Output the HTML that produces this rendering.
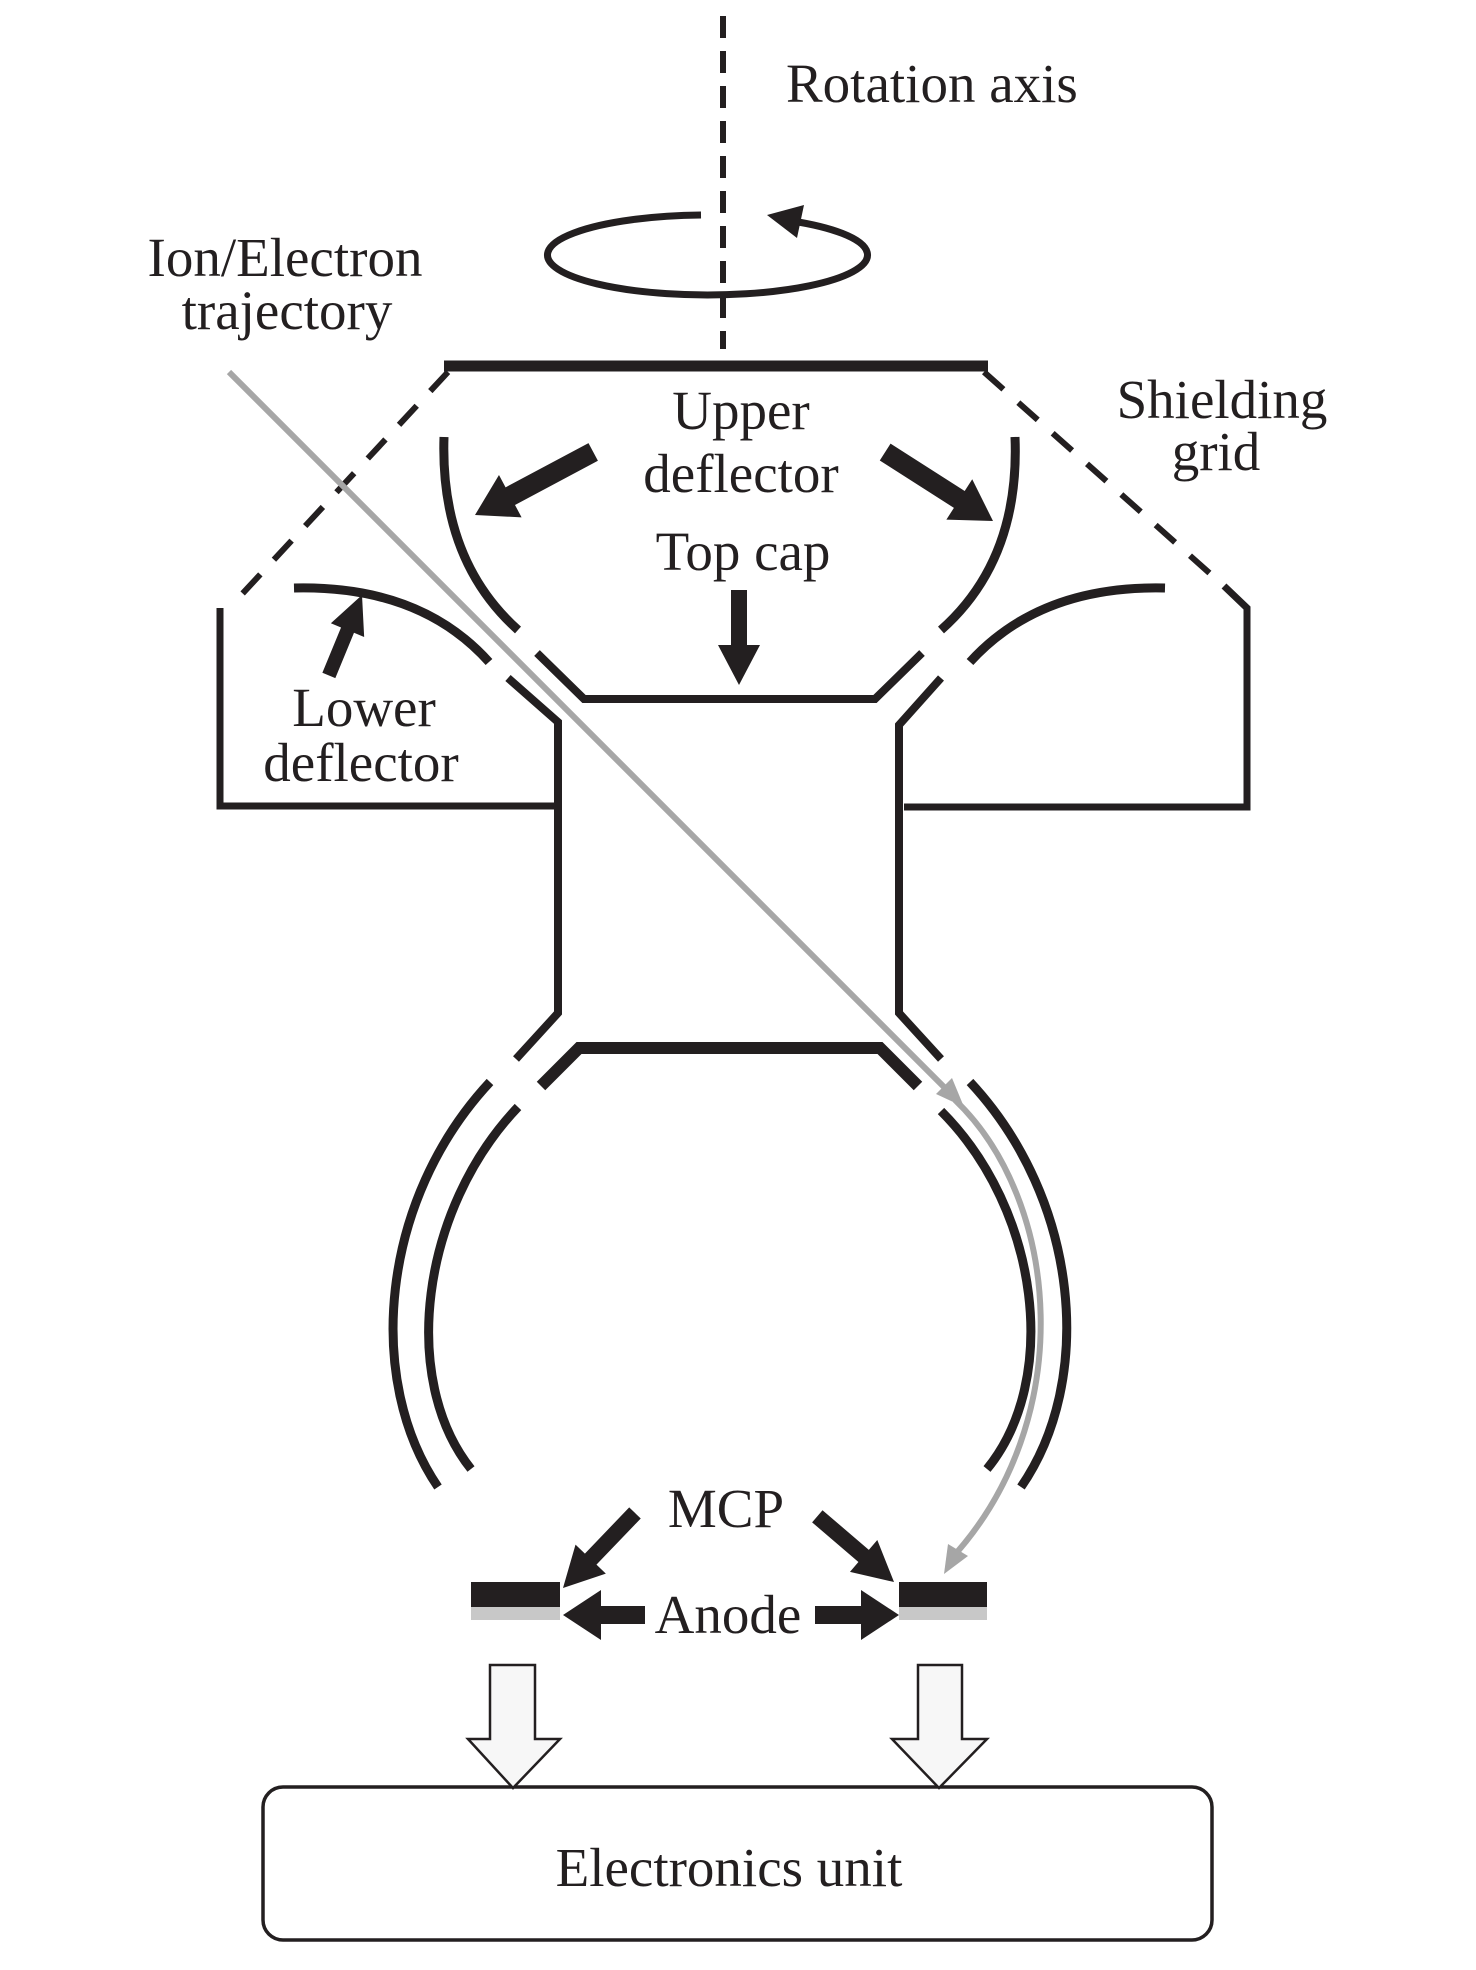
<!DOCTYPE html>
<html><head><meta charset="utf-8"><style>
html,body{margin:0;padding:0;background:#fff}
svg{display:block}
text{font-family:"Liberation Serif",serif;fill:#231f20}
</style></head><body>
<svg width="1476" height="1970" viewBox="0 0 1476 1970" xmlns="http://www.w3.org/2000/svg">
<g fill="none" stroke="#231f20" stroke-linecap="butt">
<line x1="723" y1="16" x2="723" y2="349" stroke-width="6" stroke-dasharray="22,13"/>
<path d="M701,215 A160,40 0 1,0 792,221" stroke-width="7"/>
<line x1="444" y1="366" x2="988" y2="366" stroke-width="11"/>
<line x1="448" y1="372" x2="231" y2="606" stroke-width="6" stroke-dasharray="26,20"/>
<line x1="984" y1="372" x2="1224" y2="586" stroke-width="6" stroke-dasharray="26,20"/>
<polyline points="1224,586 1247,608 1247,807 904,807" stroke-width="7"/>
<polyline points="220,608 220,806 558,806" stroke-width="7"/>
<polyline points="508,678 558,722 558,1013 516,1059" stroke-width="8"/>
<polyline points="941,678 899,725 899,1013 941,1059" stroke-width="8"/>
<polyline points="537,653 584,699 875,699 922,653" stroke-width="8"/>
<path d="M444,437 Q440,560 518,630" stroke-width="9"/>
<path d="M1015,437 Q1020,560 941,630" stroke-width="9"/>
<path d="M294,588 Q420,585 489,662" stroke-width="9"/>
<path d="M1165,588 Q1040,585 970,662" stroke-width="9"/>
<polyline points="541,1086 579,1048 880,1048 918,1086" stroke-width="12"/>
<path d="M490,1082 C380,1200 365,1380 438,1487" stroke-width="9"/>
<path d="M518,1107 C420,1210 400,1380 471,1469" stroke-width="9"/>
<path d="M970,1082 C1080,1200 1095,1380 1021,1487" stroke-width="9"/>
<path d="M941,1111 C1040,1210 1060,1380 987,1469" stroke-width="9"/>
<line x1="229" y1="372" x2="945" y2="1088" stroke="#a6a6a6" stroke-width="6"/>
<path d="M955,1100 C1060,1200 1080,1420 950,1560" stroke="#a6a6a6" stroke-width="6"/>
<rect x="263" y="1787" width="949" height="153" rx="20" stroke-width="3.5"/>
</g>
<polygon points="964,1107 936,1094 952,1078" fill="#a6a6a6"/>
<polygon points="944,1574 948,1544 968,1556" fill="#a6a6a6"/>
<polygon points="767,215 804,205 797,238" fill="#231f20"/>
<rect x="471" y="1582" width="89" height="25" fill="#231f20"/>
<rect x="471" y="1607" width="89" height="13" fill="#c8c8c8"/>
<rect x="899" y="1582" width="88" height="25" fill="#231f20"/>
<rect x="899" y="1607" width="88" height="13" fill="#c8c8c8"/>
<g fill="#231f20">
<g transform="translate(475,515) rotate(151.9)"><polygon points="-134,-10 -40,-10 -40,-24 0,0 -40,24 -40,10 -134,10"/></g>
<g transform="translate(993,521) rotate(32.6)"><polygon points="-128,-10 -40,-10 -40,-24 0,0 -40,24 -40,10 -128,10"/></g>
<g transform="translate(739,685) rotate(90)"><polygon points="-95,-8 -40,-8 -40,-21 0,0 -40,21 -40,8 -95,8"/></g>
<g transform="translate(362,595) rotate(-67.6)"><polygon points="-87,-7 -38,-7 -38,-18 0,0 -38,18 -38,7 -87,7"/></g>
<g transform="translate(563,1588) rotate(133.8)"><polygon points="-104,-8 -40,-8 -40,-21 0,0 -40,21 -40,8 -104,8"/></g>
<g transform="translate(894,1582) rotate(40.6)"><polygon points="-101,-8 -40,-8 -40,-21 0,0 -40,21 -40,8 -101,8"/></g>
<g transform="translate(563,1615) rotate(180)"><polygon points="-82,-9 -38,-9 -38,-25 0,0 -38,25 -38,9 -82,9"/></g>
<g transform="translate(899,1615)"><polygon points="-84,-9 -38,-9 -38,-25 0,0 -38,25 -38,9 -84,9"/></g>
</g>
<polygon points="490,1665 535,1665 535,1739 560,1739 513,1788 468,1739 490,1739" fill="#f7f7f7" stroke="#231f20" stroke-width="2.5"/>
<polygon points="918,1665 962,1665 962,1739 987,1739 939,1788 892,1739 918,1739" fill="#f7f7f7" stroke="#231f20" stroke-width="2.5"/>
<g font-size="55">
<text x="786" y="102">Rotation axis</text>
<text x="285" y="276" text-anchor="middle">Ion/Electron</text>
<text x="287" y="329" text-anchor="middle">trajectory</text>
<text x="741" y="429" text-anchor="middle">Upper</text>
<text x="741" y="492" text-anchor="middle">deflector</text>
<text x="743" y="570" text-anchor="middle">Top cap</text>
<text x="1222" y="418" text-anchor="middle">Shielding</text>
<text x="1216" y="470" text-anchor="middle">grid</text>
<text x="364" y="726" text-anchor="middle">Lower</text>
<text x="361" y="781" text-anchor="middle">deflector</text>
<text x="726" y="1527" text-anchor="middle">MCP</text>
<text x="728" y="1633" text-anchor="middle">Anode</text>
<text x="729" y="1886" text-anchor="middle">Electronics unit</text>
</g>
</svg>
</body></html>
